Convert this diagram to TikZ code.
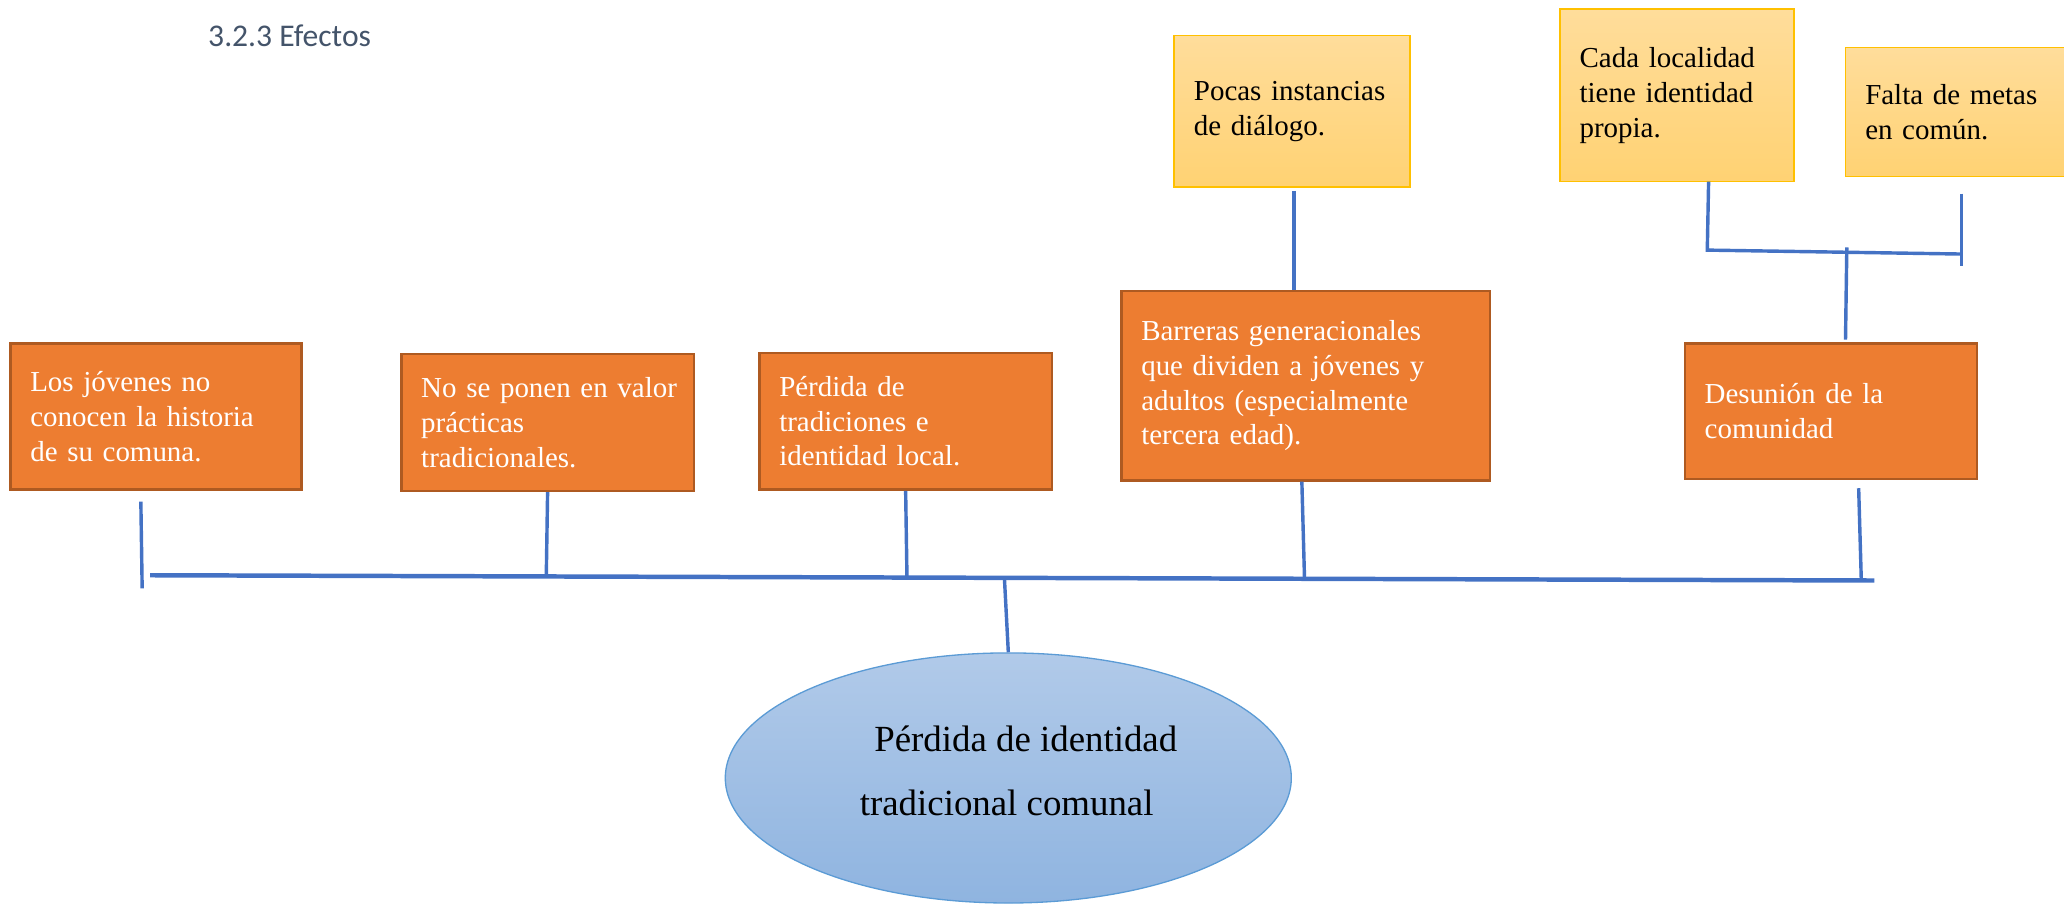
\documentclass[tikz,border=0pt]{standalone}
\usepackage{fontspec}
\setmainfont{Liberation Serif}
\newfontfamily\titlefont{Carlito}
\usetikzlibrary{shapes.geometric,calc}
\definecolor{orfill}{RGB}{237,125,49}
\definecolor{ordraw}{RGB}{174,90,33}
\definecolor{yetop}{RGB}{255,221,155}
\definecolor{yebot}{RGB}{255,210,115}
\definecolor{yedraw}{RGB}{255,192,0}
\definecolor{eltop}{RGB}{177,202,233}
\definecolor{elbot}{RGB}{143,180,224}
\definecolor{eldraw}{RGB}{91,155,213}
\definecolor{conblue}{RGB}{68,114,196}
\definecolor{titlecol}{RGB}{68,84,106}
\tikzset{
  orbox/.style={rectangle, fill=orfill, draw=ordraw, line width=1.8pt, text=white,
    align=left, inner xsep=15pt, inner ysep=0pt,
    font=\fontsize{22}{26.5}\selectfont},
  yebox/.style={rectangle, top color=yetop, bottom color=yebot, draw=yedraw, line width=1.2pt,
    text=black, align=left, inner xsep=15pt, inner ysep=0pt,
    font=\fontsize{22}{26.5}\selectfont},
  conn/.style={draw=conblue, line width=2.6pt},
  mainbar/.style={draw=conblue, line width=3.4pt},
}
\begin{document}
\begin{tikzpicture}[x=1pt,y=-1pt]
\useasboundingbox (0,0) rectangle (1568,686);
% title
\node[anchor=west, inner sep=0pt, text=titlecol, font=\titlefont\fontsize{24}{28}\selectfont] (title) at (158,27) {3.2.3 Efectos};
% orange boxes
\node[orbox, text width=191pt, minimum width=221pt, minimum height=111pt] (b1) at (118.5,316.5)
  {Los jóvenes no\\conocen la historia\\de su comuna.};
\node[orbox, text width=192pt, minimum width=222pt, minimum height=104pt] (b2) at (416,321)
  {\mbox{No se ponen en valor}\\prácticas\\tradicionales.};
\node[orbox, text width=192pt, minimum width=222pt, minimum height=104pt] (b3) at (688,320)
  {Pérdida de\\tradiciones e\\identidad local.};
\node[orbox, text width=250pt, minimum width=280pt, minimum height=144pt] (b4) at (992,293)
  {Barreras generacionales\\que dividen a jóvenes y\\adultos (especialmente\\tercera edad).};
\node[orbox, text width=192pt, minimum width=222pt, minimum height=103pt] (b5) at (1391,312.5)
  {Desunión de la\\comunidad};
% yellow boxes
\node[yebox, text width=149pt, minimum width=179pt, minimum height=115pt] (pocas) at (981.5,84.5)
  {Pocas instancias\\de diálogo.};
\node[yebox, text width=148pt, minimum width=178pt, minimum height=131pt] (cada) at (1274,72.5)
  {Cada localidad\\tiene identidad\\propia.};
\node[yebox, text width=148pt, minimum width=178pt, minimum height=98pt] (falta) at (1491,85)
  {Falta de metas\\en común.};
% ellipse
\node[ellipse, top color=eltop, bottom color=elbot, draw=eldraw, line width=1pt,
  minimum width=430pt, minimum height=190pt, inner sep=0pt] (ell) at (766,591) {};
\node[anchor=west, inner sep=0pt, align=left, font=\fontsize{28}{49}\selectfont] (elltext) at (653,585.5)
  {\hspace{11pt}Pérdida de identidad\\tradicional comunal};
% coordinates on the main bar
\coordinate (barL) at (114,437);
\coordinate (barR) at (1424,441);
\coordinate (j2) at (415,437.5);
\coordinate (j3) at (689,437.8);
\coordinate (jm) at (763,438.5);
\coordinate (j4) at (991,439);
\coordinate (j5) at (1414,441);
\coordinate (t1a) at (107,381);
\coordinate (t1b) at (108,447);
% main bar and ticks
\draw[mainbar] (barL) -- (barR);
\draw[conn] (t1a) -- (t1b);
\draw[conn] (b2.south) -- (j2);
\draw[conn] (b3.south) -- (j3);
\draw[conn] (b4.south) ++(-3,0) coordinate (b4s) (b4s) -- (j4);
\draw[conn] ($(b5.south)+(21,6)$) coordinate (b5s) (b5s) -- (j5);
\draw[conn] (jm) -- (ell.north);
% pocas to barreras
\coordinate (p1) at (983,145);
\draw[conn] (p1) -- (p1 |- b4.north);
% right bracket
\coordinate (r1) at (1298,138);
\coordinate (r2) at (1297,190);
\coordinate (r3) at (1491,193);
\coordinate (r4) at (1490,147);
\coordinate (r5) at (1490,202);
\coordinate (m1) at (1403,188);
\coordinate (m2) at (1402,258);
\draw[conn] (r1) -- (r2) -- (r3);
\draw[conn] (r4) -- (r5);
\draw[conn] (m1) -- (m2);
\end{tikzpicture}
\end{document}
